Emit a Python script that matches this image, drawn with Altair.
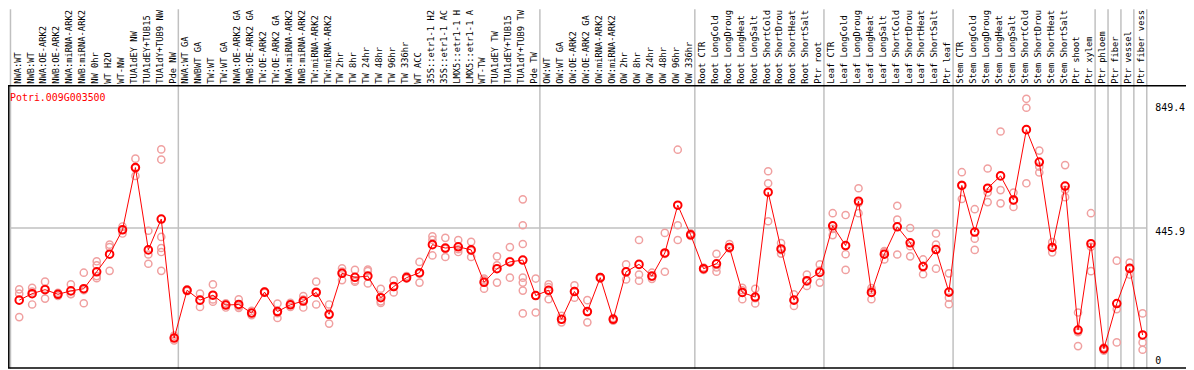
import altair as alt
import pandas as pd

gene = "Potri.009G003500"

group_sizes = [13, 28, 12, 10, 10, 11, 1, 1, 1, 1]

labels = [
    "NWA:WT", "NWB:WT", "NWA:OE-ARK2", "NWB:OE-ARK2", "NWA:miRNA-ARK2", "NWB:miRNA-ARK2",
    "NW 0hr", "WT H2O", "WT-NW", "TUA1dEY NW", "TUA1dEY+TUB15", "TUA1dY+TUB9 NW", "Pde NW",
    "NWA:WT GA", "NWBWT GA", "TW:WT", "TW:WT GA", "NWA:OE-ARK2 GA", "NWB:OE-ARK2 GA",
    "TW:OE-ARK2", "TW:OE-ARK2 GA", "NWA:miRNA-ARK2", "NWB:miRNA-ARK2", "TW:miRNA-ARK2",
    "TW:miRNA-ARK2", "TW 2hr", "TW 8hr", "TW 24hr", "TW 48hr", "TW 96hr", "TW 336hr",
    "WT ACC", "35S::etr1-1 H2", "35S::etr1-1 AC", "LMX5::etr1-1 H", "LMX5::etr1-1 A",
    "WT-TW", "TUA1dEY TW", "TUA1dEY+TUB15", "TUA1dY+TUB9 TW", "Pde TW",
    "OW:WT", "OW:WT GA", "OW:OE-ARK2", "OW:OE-ARK2 GA", "OW:miRNA-ARK2", "OW:miRNA-ARK2",
    "OW 2hr", "OW 8hr", "OW 24hr", "OW 48hr", "OW 96hr", "OW 336hr",
    "Root CTR", "Root LongCold", "Root LongDroug", "Root LongHeat", "Root LongSalt",
    "Root ShortCold", "Root ShortDrou", "Root ShortHeat", "Root ShortSalt", "Ptr root",
    "Leaf CTR", "Leaf LongCold", "Leaf LongDroug", "Leaf LongHeat", "Leaf LongSalt",
    "Leaf ShortCold", "Leaf ShortDrou", "Leaf ShortHeat", "Leaf ShortSalt", "Ptr leaf",
    "Stem CTR", "Stem LongCold", "Stem LongDroug", "Stem LongHeat", "Stem LongSalt",
    "Stem ShortCold", "Stem ShortDrou", "Stem ShortHeat", "Stem ShortSalt", "Ptr shoot",
    "Ptr xylem", "Ptr phloem", "Ptr fiber", "Ptr vessel", "Ptr fiber vess",
]

means = [
    212, 233, 246, 231, 242, 249, 304, 361, 440, 642, 375, 475, 89,
    244, 212, 228, 196, 198, 170, 238, 175, 197, 209, 237, 166, 299, 286, 290, 220,
    256, 285, 301, 392, 381, 385, 375, 270, 314, 336, 342, 227,
    244, 150, 240, 175, 285, 150, 304, 328, 290, 365, 520, 424,
    314, 330, 383, 237, 222, 562, 378, 212, 275, 302,
    453, 389, 533, 237, 361, 450, 398, 321, 376, 238,
    584, 433, 575, 615, 537, 765, 660, 383, 582, 115, 395,
    54, 201, 315, 99,
]

replicates = [
    [247, 233, 157], [252, 198, 240], [272, 217, 249], [236, 226, 231], [263, 231, 232],
    [301, 202, 244], [338, 325, 290, 283], [392, 307, 384], [451, 428, 441], [671, 615, 640],
    [437, 360, 330], [701, 668, 417, 381, 368, 307], [97, 81, 90],
    [244, 241, 247], [233, 190, 212], [263, 207, 214], [202, 188, 197], [215, 187, 192],
    [177, 163, 170], [240, 236, 238], [201, 154, 170], [203, 190, 197], [225, 188, 214],
    [272, 198, 240], [198, 136, 164], [315, 277, 305], [310, 272, 276], [311, 306, 266],
    [249, 208, 203], [276, 237, 255], [290, 283, 282], [336, 269, 298], [419, 408, 357],
    [414, 352, 378], [407, 368, 377], [401, 352, 372], [282, 249, 276], [354, 325, 269],
    [384, 285, 339], [539, 455, 394, 285, 269, 243, 169], [282, 172, 227],
    [263, 215, 254], [140, 150, 161], [260, 220, 241], [212, 140, 173], [287, 282, 285],
    [154, 145, 150], [328, 279, 305], [407, 295, 275], [301, 281, 288], [430, 304, 362],
    [700, 455, 407], [429, 424, 420],
    [318, 310, 314], [362, 318, 304], [394, 384, 380], [252, 215, 244], [249, 201, 218],
    [630, 591, 468], [397, 363, 374], [231, 193, 212], [295, 258, 272], [328, 269, 308],
    [494, 423, 443], [488, 361, 310], [575, 494, 527], [251, 215, 244], [344, 368, 371],
    [518, 473, 360], [446, 387, 354], [344, 296, 323], [428, 392, 314], [299, 220, 199],
    [627, 540, 586], [507, 411, 375], [639, 561, 530], [759, 569, 526], [561, 514, 535],
    [865, 836, 591], [697, 645, 626], [400, 367, 383], [650, 570, 546], [172, 108, 63],
    [494, 306, 385],
    [52, 48, 58], [340, 183, 75], [334, 295, 316], [169, 75, 51],
]

tick_values = [0, 445.9, 849.4]
tick_labels = ["0", "445.9", "849.4"]

W, H = 1186, 362
FONT = "DejaVu Sans Mono"

cols = pd.DataFrame({"i": list(range(len(labels))), "label": labels, "mean": means})
reps = pd.DataFrame(
    [{"i": i, "v": v} for i, vals in enumerate(replicates) for v in vals]
)

bounds = [0]
for s in group_sizes:
    bounds.append(bounds[-1] + s)
sep = pd.DataFrame({"b": [b - 0.677 for b in bounds]})
mid = pd.DataFrame({"b": [bounds[0] - 0.677], "b2": [bounds[-1] - 0.677], "v": [tick_values[1]]})
ticks = pd.DataFrame({"v": tick_values, "t": tick_labels})

xs = alt.Scale(domain=[-0.8692, 90.3615], zero=False, nice=False)
ys = alt.Scale(domain=[-10.63, 1155.6], zero=False, nice=False)

RED = "#ff0000"
PINK = "#f0a0a0"
GRAY = "#c0c0c0"

seps = alt.Chart(sep).mark_rule(color=GRAY, strokeWidth=1.5).encode(
    x=alt.X("b:Q", scale=xs, axis=None), y=alt.value(0), y2=alt.value(H)
)
midline = alt.Chart(mid).mark_rule(color=GRAY, strokeWidth=1.5).encode(
    x=alt.X("b:Q", scale=xs, axis=None), x2="b2:Q", y=alt.Y("v:Q", scale=ys, axis=None)
)
frame_top = alt.Chart(mid).mark_rule(color="black", strokeWidth=1.5).encode(
    x=alt.value(0), x2=alt.value(W), y=alt.value(77)
)
frame_bottom = alt.Chart(mid).mark_rule(color="black", strokeWidth=1.5).encode(
    x=alt.value(0), x2=alt.value(W), y=alt.value(361.3)
)
frame_left = alt.Chart(mid).mark_rule(color="black", strokeWidth=1.5).encode(
    x=alt.value(0.8), y=alt.value(77), y2=alt.value(361.3)
)

col_labels = alt.Chart(cols).mark_text(
    angle=270, align="left", baseline="middle", font=FONT, fontSize=8.8, dx=0, dy=-1.6, color="black"
).encode(x=alt.X("i:Q", scale=xs, axis=None), y=alt.value(75), text="label:N")

rep_pts = alt.Chart(reps).mark_point(
    shape="circle", filled=False, stroke=PINK, strokeWidth=1.5, size=52, opacity=1
).encode(x=alt.X("i:Q", scale=xs, axis=None), y=alt.Y("v:Q", scale=ys, axis=None))

mean_line = alt.Chart(cols).mark_line(color=RED, strokeWidth=1).encode(
    x=alt.X("i:Q", scale=xs, axis=None), y=alt.Y("mean:Q", scale=ys, axis=None)
)
mean_pts = alt.Chart(cols).mark_point(
    shape="circle", filled=False, stroke=RED, strokeWidth=2, size=58, opacity=1
).encode(x=alt.X("i:Q", scale=xs, axis=None), y=alt.Y("mean:Q", scale=ys, axis=None))

tick_hi = alt.Chart(ticks[ticks.v > 0]).mark_text(
    align="left", baseline="middle", font=FONT, fontSize=10, dy=4, color="black"
).encode(x=alt.value(1155), y=alt.Y("v:Q", scale=ys, axis=None), text="t:N")
tick_lo = alt.Chart(ticks[ticks.v == 0]).mark_text(
    align="left", baseline="middle", font=FONT, fontSize=10, dy=-4.7, color="black"
).encode(x=alt.value(1155), y=alt.Y("v:Q", scale=ys, axis=None), text="t:N")

title = alt.Chart(mid).mark_text(
    align="left", baseline="middle", font=FONT, fontSize=10, color=RED
).encode(x=alt.value(2), y=alt.value(89), text=alt.value(gene))

chart = alt.layer(
    seps, midline, frame_top, frame_bottom, frame_left, col_labels,
    rep_pts, mean_line, mean_pts, tick_hi, tick_lo, title
).properties(
    width=W, height=H, autosize=alt.AutoSizeParams(type="none"), padding=0, background="white"
).configure_view(stroke=None)

chart.save("out.html", embed_options={"renderer": "svg", "actions": False})
